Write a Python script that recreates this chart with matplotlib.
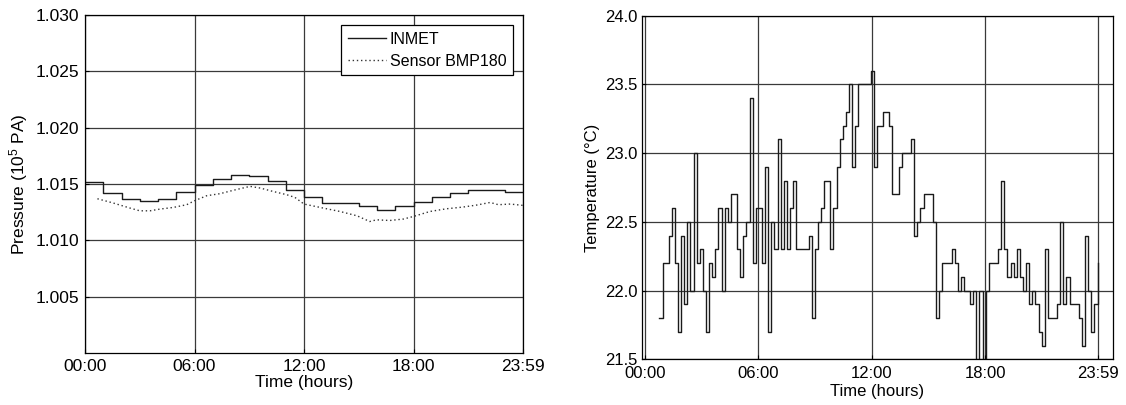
import numpy as np
import matplotlib
matplotlib.use("Agg")
import matplotlib.pyplot as plt

plt.rcParams['font.family'] = ['Liberation Sans', 'DejaVu Sans']
plt.rcParams['mathtext.fontset'] = 'custom'
plt.rcParams['mathtext.rm'] = 'Liberation Sans'
plt.rcParams['mathtext.it'] = 'Liberation Sans:italic'

# ---------------- data ----------------
time_ticks = [0, 6, 12, 18, 23.983]
time_labels = ['00:00', '06:00', '12:00', '18:00', '23:59']

# INMET hourly pressure (10^5 Pa), one value per hour 00..23
inmet_hours = list(range(25))
inmet = [1.01514, 1.01420, 1.01363, 1.01351, 1.01363, 1.01429, 1.01488, 1.01544,
         1.01583, 1.01574, 1.01523, 1.01443, 1.01384, 1.01331, 1.01331, 1.01301,
         1.01271, 1.01301, 1.01340, 1.01381, 1.01423, 1.01449, 1.01443, 1.01432]

# BMP180 sensor pressure
sensor_hours = [0.68, 1.55, 2.47, 3.0, 3.56, 4.1, 4.84, 5.57, 6.0, 6.67, 7.4, 8.1,
                9.04, 9.6, 10.3, 11.05, 11.5, 12.0, 13.06, 13.97, 14.9, 15.6, 15.97,
                16.7, 17.45, 18.0, 18.9, 19.8, 20.7, 21.46, 22.2, 22.65, 23.3, 24.0]
sensor = [1.01369, 1.01331, 1.01286, 1.01262, 1.01262, 1.01277, 1.01292, 1.01316,
          1.01351, 1.01396, 1.01414, 1.01443, 1.01479, 1.01464, 1.01434, 1.01405,
          1.01381, 1.01322, 1.01286, 1.01256, 1.01218, 1.01167, 1.01182, 1.01176,
          1.01189, 1.01212, 1.01256, 1.01280, 1.01295, 1.01313, 1.01336, 1.01316,
          1.01322, 1.01310]

# Temperature (deg C), ~10-minute samples from 00:45 to 23:59
temp_start, temp_end = 0.76, 23.96
temperature = [
    21.8, 22.2, 22.2, 22.4, 22.6, 22.2, 21.7, 22.4, 21.9, 22.5, 22.0, 23.0, 22.2,
    22.3, 22.0, 21.7, 22.2, 22.1, 22.3, 22.6, 22.0, 22.6, 22.5, 22.7, 22.7, 22.3,
    22.1, 22.4, 22.5, 23.4, 22.2, 22.6, 22.6, 22.2, 22.9, 21.7, 22.5, 22.3, 23.1,
    22.3, 22.8, 22.3, 22.6, 22.8, 22.3, 22.3, 22.3, 22.3, 22.4, 21.8, 22.3, 22.5,
    22.6, 22.8, 22.8, 22.3, 22.6, 22.9, 23.1, 23.2, 23.3, 23.5, 22.9, 23.2, 23.5,
    23.5, 23.5, 23.5,
    23.6, 22.9, 23.2, 23.2, 23.3, 23.3, 23.2, 22.7, 22.7, 22.9, 23.0, 23.0, 23.0,
    23.1, 22.4, 22.5, 22.6, 22.7, 22.7, 22.7, 22.5, 21.8, 22.0, 22.2, 22.2, 22.2,
    22.3, 22.2, 22.0, 22.1, 22.0, 22.0, 21.9, 22.0, 21.4, 22.0, 21.4, 22.0, 22.2,
    22.2, 22.2, 22.3, 22.8, 22.3, 22.1, 22.2, 22.1, 22.3, 22.1, 22.0, 22.2, 21.9,
    22.0, 21.9, 21.7, 21.6, 22.3, 21.8, 21.8, 21.8, 21.9, 22.5, 21.9, 22.1, 21.9,
    21.9, 21.9, 21.8, 21.6, 22.4, 22.0, 21.7, 21.9, 22.2]

# ---------------- figure ----------------
fig = plt.figure(figsize=(11.26, 4.05), dpi=100)
LINE = '#1a1a1a'
GRID = '#3a3a3a'

ax1 = fig.add_axes([0.0755, 0.1284, 0.389, 0.8346])
ax1.step(inmet_hours, inmet + [inmet[-1]], where='post', color=LINE, lw=1.0,
         label='INMET')
ax1.plot(sensor_hours, sensor, color='#333333', lw=1.0, linestyle=(0, (1, 2)),
         label='Sensor BMP180')
ax1.set_xlim(0, 24)
ax1.set_ylim(1.000, 1.030)
ax1.set_yticks([1.005, 1.010, 1.015, 1.020, 1.025, 1.030])
ax1.set_yticklabels(['1.005', '1.010', '1.015', '1.020', '1.025', '1.030'])
ax1.set_xticks(time_ticks)
ax1.set_xticklabels(time_labels)
ax1.set_xlabel('Time (hours)', fontsize=12.5, labelpad=1)
ax1.set_ylabel(r'Pressure (10$^5$ PA)', fontsize=12.5, labelpad=4)
ax1.grid(True, color=GRID, lw=0.9)
ax1.tick_params(labelsize=12.5, direction='in', length=3, width=0.8, pad=4)
leg = ax1.legend(loc='upper right', bbox_to_anchor=(0.977, 0.970), borderaxespad=0,
                 prop={'size': 11.5}, fancybox=False, edgecolor='black',
                 framealpha=1, handlelength=2.4, handletextpad=0.25,
                 labelspacing=0.45, borderpad=0.4)
leg.get_frame().set_linewidth(0.9)

ax2 = fig.add_axes([0.5702, 0.1128, 0.4183, 0.8489])
t = np.linspace(temp_start, temp_end, len(temperature))
ax2.step(t, temperature, where='post', color=LINE, lw=1.0)
ax2.set_xlim(-0.16, 24.78)
ax2.set_ylim(21.5, 24.0)
ax2.set_yticks([21.5, 22.0, 22.5, 23.0, 23.5, 24.0])
ax2.set_yticklabels(['21.5', '22.0', '22.5', '23.0', '23.5', '24.0'])
ax2.set_xticks(time_ticks)
ax2.set_xticklabels(time_labels)
ax2.set_xlabel('Time (hours)', fontsize=12, labelpad=2)
ax2.set_ylabel('Temperature (°C)', fontsize=12, labelpad=4)
ax2.grid(True, color=GRID, lw=0.9)
ax2.tick_params(axis='y', labelsize=12, direction='in', length=3, width=0.8, pad=3)
ax2.tick_params(axis='x', labelsize=12, direction='in', length=3, width=0.8, pad=5)

for ax in (ax1, ax2):
    for s in ax.spines.values():
        s.set_linewidth(0.9)
        s.set_color('black')
    ax.set_axisbelow(True)

fig.savefig('out.png', dpi=100)
